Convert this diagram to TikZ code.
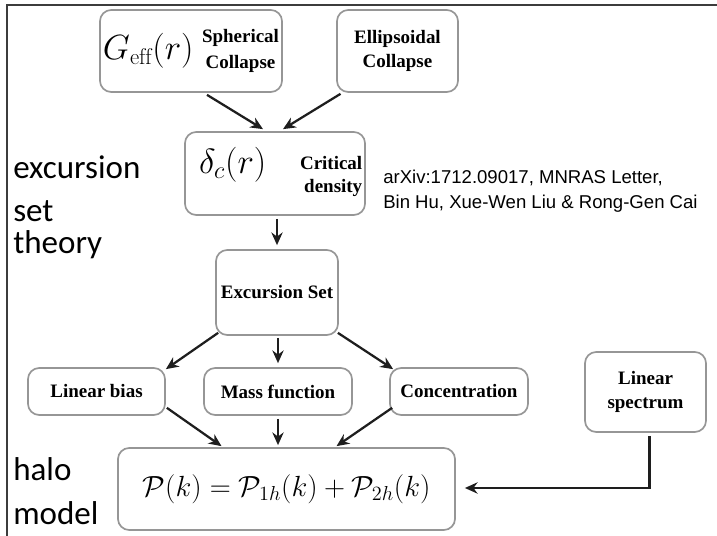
\documentclass[tikz,border=0pt]{standalone}
\usepackage{fontspec}
\usepackage{amsmath}
\usetikzlibrary{calc}
\usetikzlibrary{arrows.meta}
\newfontfamily\boxfont{Liberation Serif}
\newfontfamily\sidefont{Carlito}
\newfontfamily\citefont{Liberation Sans}
\definecolor{box-gray}{RGB}{150, 150, 150}
\definecolor{arrow-black}{RGB}{30, 30, 30}
\definecolor{frame-gray}{RGB}{60, 60, 60}

\begin{document}
\begin{tikzpicture}[x=0.025cm, y=-0.025cm,
        box/.style={draw=box-gray, line width=1.2pt, rounded corners=8pt, inner sep=0pt, align=center,
            font=\boxfont\bfseries\fontsize{13.5}{16.5}\selectfont},
        arr/.style={draw=arrow-black, line width=1.6pt, -{Stealth[length=9pt, width=8pt]}},
        side/.style={anchor=base west, inner sep=0pt, font=\sidefont\fontsize{23.5}{23.5}\selectfont}]
    \useasboundingbox (0, 0) rectangle (717, 536);
    \draw[frame-gray, line width=1.5pt] (7, 536) -- (7, 5) -- (717, 5);

    \node[box, minimum width=4.55cm, minimum height=2.05cm] (geff) at (191, 51)
        {{\fontsize{23}{23}\selectfont$G_{\mathrm{eff}}(r)$}\hspace{6pt}\raisebox{2.5pt}{\begin{tabular}{@{}c@{}}Spherical\\[1.5pt]Collapse\end{tabular}}};
    \node[box, minimum width=3.025cm, minimum height=2.05cm] (ellip) at (397.5, 51) {Ellipsoidal\\Collapse};
    \node[box, minimum width=4.5cm, minimum height=2.075cm] (delta) at (275, 173.5)
        {\hspace*{8pt}{\fontsize{23}{23}\selectfont$\delta_c(r)$}\hspace{24pt}\raisebox{-6pt}{\begin{tabular}{@{}r@{}}Critical\\density\end{tabular}}};
    \node[box, minimum width=3.05cm, minimum height=2.125cm] (exc) at (277, 292.5) {Excursion Set};
    \node[box, minimum width=3.425cm, minimum height=1.175cm] (bias) at (96.5, 391.5) {Linear bias};
    \node[box, minimum width=3.7cm, minimum height=1.175cm] (mass) at (278, 391.5) {Mass function};
    \node[box, minimum width=3.45cm, minimum height=1.175cm] (conc) at (459, 391.5) {Concentration};
    \node[box, minimum width=3.025cm, minimum height=2.0cm] (lin) at (645.5, 392) {Linear\\spectrum};
    \node[box, minimum width=8.425cm, minimum height=2.05cm] (pk) at (286.5, 489)
        {{\fontsize{22.5}{22.5}\selectfont$\mathcal{P}(k)=\mathcal{P}_{1h}(k)+\mathcal{P}_{2h}(k)$}};

    \node[side] (exc-a) at (13, 179) {excursion};
    \node[side] (exc-b) at (13, 222) {set};
    \node[side] (exc-c) at (13, 254) {theory};
    \node[side] (halo-a) at (13, 481) {halo};
    \node[side] (halo-b) at (13, 525) {model};
    \node[anchor=base west, inner sep=0pt, align=left, font=\citefont\fontsize{13.2}{17.8}\selectfont] (ref) at (383, 209)
        {arXiv:1712.09017, MNRAS Letter,\\Bin Hu, Xue-Wen Liu \& Rong-Gen Cai};

    \draw[arr] ($(geff.south)+(16, 2)$) -- ($(delta.north)+(-12, -2)$);
    \draw[arr] ($(ellip.south)+(-57, 1)$) -- ($(delta.north)+(8, -2)$);
    \draw[arr] ($(delta.south)+(2, 3)$) -- ($(exc.north)+(0, -4)$);
    \draw[arr] ($(exc.south west)+(3, -3)$) -- ($(bias.north east)+(0, 2)$);
    \draw[arr] ($(exc.south)+(1, 2)$) -- ($(mass.north)+(0, -4)$);
    \draw[arr] ($(exc.south east)+(-1, -3)$) -- ($(conc.north west)+(4, 2)$);
    \draw[arr] ($(bias.south east)+(1, -8)$) -- ($(pk.north)+(-65, -1)$);
    \draw[arr] ($(mass.south)+(0, 3)$) -- ($(pk.north)+(-8.5, -2)$);
    \draw[arr] ($(conc.south west)+(3, -8)$) -- ($(pk.north)+(50, -1)$);
    \draw[arr] ($(lin.south)+(4, 3)$) |- ($(pk.east)+(9, -1)$);
\end{tikzpicture}
\end{document}
